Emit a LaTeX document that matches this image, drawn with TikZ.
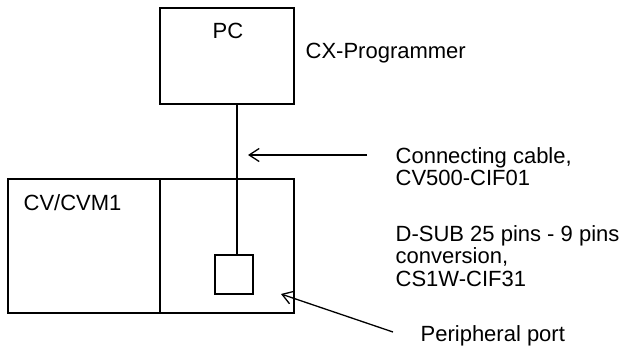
\documentclass[tikz,border=0pt]{standalone}
\usepackage{fontspec}
\setmainfont{Liberation Sans}
\usetikzlibrary{arrows.meta}
\begin{document}
\begin{tikzpicture}[x=1pt,y=-1pt,
  line width=1.3pt,
  box/.style={draw,line width=1.3pt,inner sep=0pt,minimum width=#1},
  lbl/.style={inner sep=0pt,font=\fontsize{22}{22.5}\selectfont,align=left},
  pointer/.style={-{Straight Barb[length=10pt,width=13pt,line width=1.3pt]},line width=1.3pt}]
\useasboundingbox (0,0) rectangle (624,349);
% boxes
\node[box=134pt,minimum height=96pt] (pc) at (227,56) {};
\node[lbl,anchor=base] (pctext) at (228,38.5) {PC};
\node[box=152pt,minimum height=134pt] (cpu) at (84,246) {};
\node[box=134pt,minimum height=134pt] (unit) at (227,246) {};
\node[box=38pt,minimum height=39pt] (port) at (234,274.5) {};
\node[lbl,anchor=base west] (cputext) at (23,210) {CV/CVM1};
% cable
\draw ([xshift=10pt]pc.south) -- ([xshift=3pt]port.north);
% labels
\node[lbl,anchor=base west] (cx) at (305,58) {CX-Programmer};
\node[lbl,anchor=north west] (cable) at (395,146.9) {Connecting cable,\\CV500-CIF01};
\node[lbl,anchor=north west] (dsub) at (395,224.9) {D-SUB 25 pins - 9 pins\\conversion,\\CS1W-CIF31};
\node[lbl,anchor=base west] (periph) at (420,341.5) {Peripheral port};
% pointers
\coordinate (a1tail) at (367,155);
\coordinate (a1head) at (248,155);
\coordinate (a2tail) at (393,332);
\coordinate (a2head) at (281,294);
\draw[pointer] (a1tail) -- (a1head);
\draw[pointer] (a2tail) -- (a2head);
\end{tikzpicture}
\end{document}
